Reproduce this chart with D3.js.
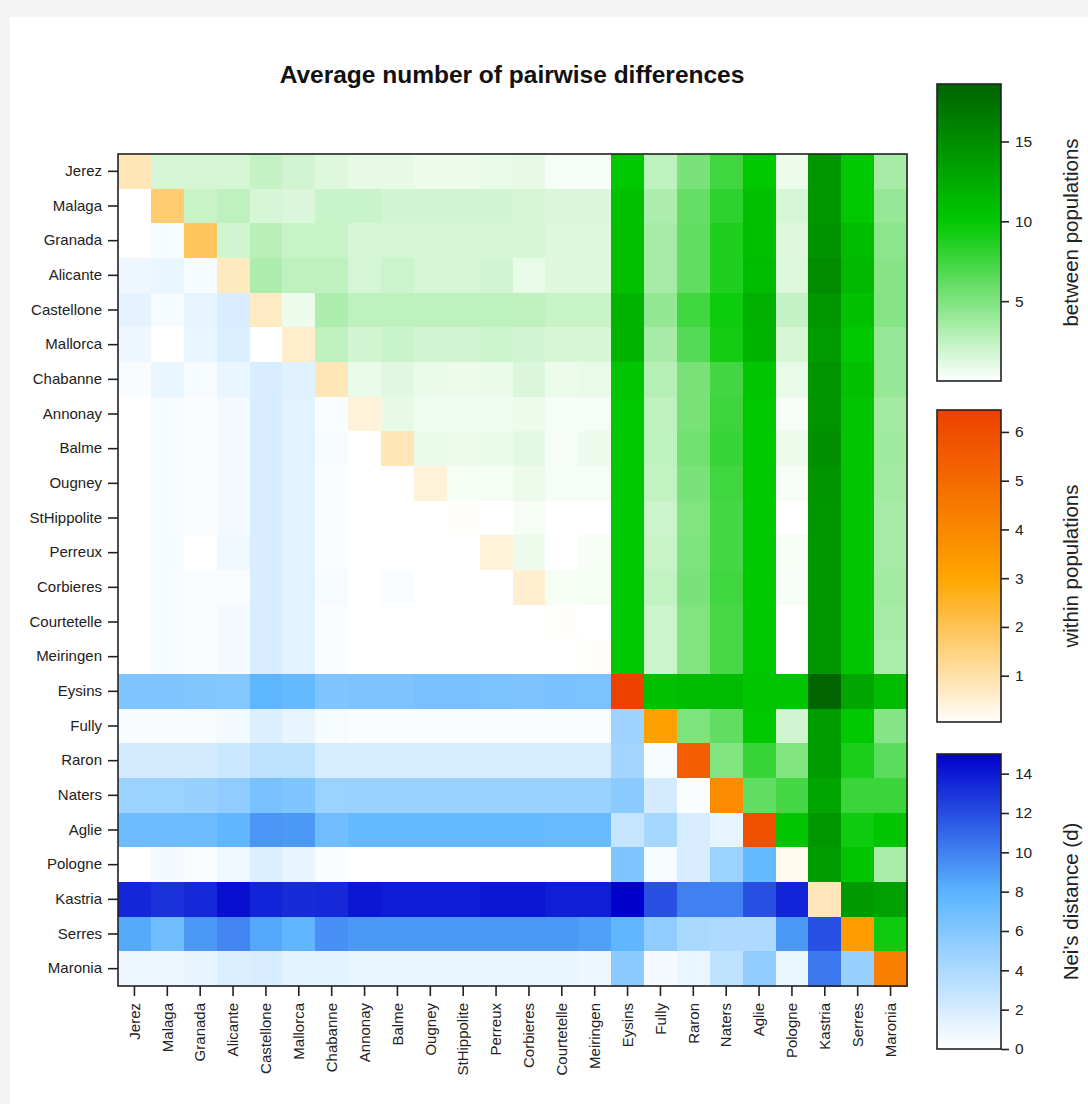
<!DOCTYPE html>
<html>
<head>
<meta charset="utf-8">
<script src="https://cdn.jsdelivr.net/npm/d3@7"></script>
<style>
  body { margin: 0; background: #f4f4f4; }
  svg { display: block; font-family: "Liberation Sans", Arial, sans-serif; }
</style>
</head>
<body>
<svg id="chart" width="1088" height="1104"></svg>
<script>
// ---------------- DATA ----------------
const populations = ["Jerez","Malaga","Granada","Alicante","Castellone","Mallorca","Chabanne","Annonay","Balme","Ougney","StHippolite","Perreux","Corbieres","Courtetelle","Meiringen","Eysins","Fully","Raron","Naters","Aglie","Pologne","Kastria","Serres","Maronia"];

// diagonal: average pairwise differences within populations
const withinPop = [0.85, 1.7, 1.9, 0.75, 0.7, 0.6, 0.85, 0.45, 0.85, 0.45, 0.05, 0.45, 0.55, 0.05, 0.05, 6.45, 3.15, 5.4, 3.9, 5.9, 0.2, 0.8, 3.3, 4.3];

// upper triangle: between populations, row i holds columns i+1 .. 23
const betweenPop = [
  [1.7, 1.7, 1.7, 2.3, 1.8, 1.3, 1.0, 1.0, 0.7, 0.7, 0.9, 1.0, 0.35, 0.35, 10.0, 2.6, 5.2, 7.5, 10.0, 0.7, 14.3, 10.0, 3.5],
  [2.2, 2.5, 1.6, 1.4, 2.1, 2.1, 1.8, 1.8, 1.8, 1.8, 1.6, 1.4, 1.4, 10.7, 3.2, 6.0, 8.2, 10.7, 1.6, 14.3, 10.0, 4.1],
  [1.8, 2.8, 2.2, 2.2, 1.7, 1.7, 1.7, 1.6, 1.6, 1.6, 1.3, 1.3, 10.7, 3.5, 6.2, 8.8, 10.7, 1.3, 14.6, 11.0, 4.5],
  [3.2, 2.5, 2.5, 1.7, 2.0, 1.7, 1.7, 1.8, 0.9, 1.3, 1.3, 10.7, 3.5, 6.2, 8.8, 11.0, 1.3, 15.2, 11.4, 4.7],
  [0.7, 3.2, 2.6, 2.6, 2.6, 2.6, 2.6, 2.5, 2.2, 2.2, 11.7, 4.2, 7.5, 9.5, 12.1, 2.3, 14.3, 10.7, 4.8],
  [2.5, 1.8, 2.1, 1.8, 1.8, 2.0, 1.8, 1.6, 1.6, 11.7, 3.5, 6.7, 9.2, 11.7, 1.6, 13.9, 10.0, 4.1],
  [0.9, 1.2, 0.8, 0.7, 0.8, 1.4, 0.7, 0.9, 10.3, 2.9, 5.3, 7.4, 10.3, 0.9, 14.5, 10.7, 4.1],
  [1.0, 0.6, 0.6, 0.6, 0.7, 0.35, 0.35, 10.0, 2.5, 5.3, 7.6, 10.0, 0.35, 14.5, 10.3, 3.6],
  [0.8, 0.7, 0.8, 1.1, 0.35, 0.7, 10.0, 2.6, 5.6, 7.8, 10.0, 0.7, 14.9, 10.3, 3.7],
  [0.4, 0.4, 0.7, 0.35, 0.35, 10.0, 2.4, 5.2, 7.5, 10.0, 0.35, 14.5, 10.3, 3.6],
  [0.0, 0.4, 0.0, 0.0, 10.0, 2.0, 5.0, 7.3, 10.0, 0.0, 14.3, 10.3, 3.5],
  [0.7, 0.0, 0.4, 10.0, 2.2, 5.1, 7.3, 10.0, 0.4, 14.3, 10.3, 3.5],
  [0.4, 0.4, 10.0, 2.4, 5.2, 7.5, 10.0, 0.35, 14.3, 10.3, 3.6],
  [0.0, 10.0, 2.0, 5.0, 7.2, 10.0, 0.0, 14.3, 10.3, 3.5],
  [10.0, 2.0, 5.0, 7.2, 10.0, 0.0, 14.3, 10.3, 3.3],
  [10.7, 11.0, 11.0, 10.3, 10.3, 18.6, 13.0, 11.0],
  [5.1, 6.2, 10.0, 1.8, 13.7, 10.0, 4.7],
  [5.0, 7.9, 5.0, 13.7, 9.0, 6.4],
  [6.2, 7.3, 13.0, 7.7, 7.7],
  [10.3, 14.3, 9.4, 10.3],
  [13.7, 10.3, 3.4],
  [14.0, 13.4],
  [9.4],
  []
];

// lower triangle: Nei's distance, row i holds columns 0 .. i-1
const neiDist = [
  [],
  [0.0],
  [0.0, 0.44],
  [0.82, 1.0, 0.44],
  [1.3, 0.44, 1.2, 1.9],
  [0.82, 0.0, 1.0, 1.7, 0.0],
  [0.34, 1.0, 0.44, 1.0, 1.9, 1.5],
  [0.0, 0.44, 0.24, 0.63, 1.9, 1.4, 0.24],
  [0.0, 0.44, 0.24, 0.63, 1.9, 1.4, 0.44, 0.0],
  [0.0, 0.44, 0.24, 0.63, 1.9, 1.4, 0.24, 0.0, 0.0],
  [0.0, 0.44, 0.24, 0.63, 1.9, 1.4, 0.24, 0.0, 0.0, 0.0],
  [0.0, 0.44, 0.0, 0.73, 1.9, 1.4, 0.24, 0.0, 0.0, 0.0, 0.0],
  [0.0, 0.44, 0.24, 0.24, 1.9, 1.4, 0.44, 0.0, 0.24, 0.0, 0.0, 0.0],
  [0.0, 0.44, 0.24, 0.63, 1.9, 1.4, 0.24, 0.0, 0.0, 0.0, 0.0, 0.0, 0.0],
  [0.0, 0.44, 0.24, 0.63, 1.9, 1.4, 0.24, 0.0, 0.0, 0.0, 0.0, 0.0, 0.0, 0.0],
  [6.2, 6.2, 6.1, 6.0, 7.8, 7.4, 6.2, 6.3, 6.3, 6.6, 6.6, 6.4, 6.3, 6.5, 6.4],
  [0.34, 0.34, 0.34, 0.63, 1.7, 1.1, 0.44, 0.24, 0.24, 0.24, 0.24, 0.24, 0.24, 0.24, 0.24, 4.7],
  [2.1, 2.1, 2.1, 2.5, 3.2, 3.2, 2.0, 2.0, 2.0, 2.0, 2.0, 2.0, 2.0, 2.0, 2.0, 4.5, 0.44],
  [4.8, 4.8, 5.0, 5.4, 6.6, 6.2, 4.8, 4.9, 4.9, 4.9, 4.9, 4.9, 4.9, 4.9, 4.9, 5.6, 2.1, 0.24],
  [7.1, 7.1, 7.1, 7.7, 9.2, 9.1, 6.9, 7.5, 7.5, 7.5, 7.5, 7.5, 7.5, 7.3, 7.3, 2.8, 4.3, 1.9, 1.2],
  [0.0, 0.53, 0.24, 0.73, 1.7, 1.1, 0.24, 0.0, 0.0, 0.0, 0.0, 0.0, 0.0, 0.0, 0.0, 6.2, 0.44, 1.9, 4.8, 7.4],
  [13.5, 13.1, 13.4, 14.4, 13.6, 13.3, 13.4, 14.1, 13.9, 13.9, 13.9, 14.1, 14.1, 13.8, 13.8, 15.0, 11.9, 10.0, 10.0, 11.9, 13.6],
  [8.4, 6.9, 9.1, 9.8, 8.5, 7.7, 9.4, 9.1, 9.1, 9.1, 9.1, 9.1, 9.1, 9.1, 8.8, 7.7, 5.4, 4.1, 3.9, 3.9, 9.1, 11.9],
  [0.82, 0.82, 1.1, 1.7, 1.9, 1.4, 1.4, 1.0, 1.0, 1.0, 1.0, 1.0, 1.0, 1.0, 0.82, 5.6, 0.53, 1.0, 3.2, 5.4, 1.0, 10.3, 5.0]
];

const betweenTicks = [5, 10, 15];
const withinTicks = [1, 2, 3, 4, 5, 6];
const neiTicks = [0, 2, 4, 6, 8, 10, 12, 14];

const chartTitle = "Average number of pairwise differences";
const legendTitles = ["between populations", "within populations", "Nei's distance (d)"];

// ---------------- DRAW ----------------
const svg = d3.select("#chart");

// window-like frame
svg.append("rect").attr("x", 0).attr("y", 0).attr("width", 1088).attr("height", 1104).attr("fill", "#f4f4f4");
svg.append("rect").attr("x", 10).attr("y", 17).attr("width", 1078).attr("height", 1087).attr("fill", "#ffffff");

const betweenMax = d3.max(betweenPop.flat());
const withinExt = d3.extent(withinPop);
const neiMax = d3.max(neiDist.flat());

const greenScale = d3.scaleLinear().domain([0, 10, betweenMax]).range(["#ffffff", "#00c800", "#006400"]).clamp(true);
const orangeScale = d3.scaleLinear().domain([0, 3, withinExt[1]]).range(["#ffffff", "#ffa500", "#ee4000"]).clamp(true);
const blueScale = d3.scaleLinear().domain([0, 8, neiMax]).range(["#ffffff", "#5ab4ff", "#0000cd"]).clamp(true);

const x = d3.scaleBand().domain(populations).range([118, 907]);
const y = d3.scaleBand().domain(populations).range([154, 986]);

// build cells
const cells = [];
populations.forEach((rowName, i) => {
  populations.forEach((colName, j) => {
    let v, color;
    if (i === j) { v = withinPop[i]; color = orangeScale(v); }
    else if (j > i) { v = betweenPop[i][j - i - 1]; color = greenScale(v); }
    else { v = neiDist[i][j]; color = blueScale(v); }
    cells.push({ row: rowName, col: colName, v, color });
  });
});

svg.append("g")
  .selectAll("rect")
  .data(cells)
  .join("rect")
  .attr("x", d => x(d.col))
  .attr("y", d => y(d.row))
  .attr("width", x.bandwidth() + 0.5)
  .attr("height", y.bandwidth() + 0.5)
  .attr("fill", d => d.color)
  .attr("shape-rendering", "crispEdges");

// frame
svg.append("rect")
  .attr("x", 118).attr("y", 154).attr("width", 789).attr("height", 832)
  .attr("fill", "none").attr("stroke", "#222").attr("stroke-width", 1.6);

// left axis
const yAxis = d3.axisLeft(y).tickSize(10).tickPadding(6);
const gy = svg.append("g").attr("transform", "translate(118,0)").call(yAxis);
gy.select(".domain").remove();
gy.selectAll(".tick line").attr("stroke", "#222").attr("stroke-width", 1.6);
gy.selectAll(".tick text").attr("font-size", 15).attr("fill", "#222").attr("font-family", "Liberation Sans, Arial, sans-serif");

// bottom axis
const xAxis = d3.axisBottom(x).tickSize(10).tickPadding(6);
const gx = svg.append("g").attr("transform", "translate(0,986)").call(xAxis);
gx.select(".domain").remove();
gx.selectAll(".tick line").attr("stroke", "#222").attr("stroke-width", 1.6);
gx.selectAll(".tick text")
  .attr("font-size", 15).attr("fill", "#222").attr("font-family", "Liberation Sans, Arial, sans-serif")
  .attr("transform", "rotate(-90)")
  .attr("text-anchor", "end")
  .attr("x", -17).attr("y", 0).attr("dy", "0.35em");

// title
svg.append("text")
  .attr("x", 512).attr("y", 83)
  .attr("text-anchor", "middle")
  .attr("font-size", 24.5).attr("font-weight", "bold").attr("fill", "#111")
  .text(chartTitle);

// legends
const defs = svg.append("defs");
function legend(id, scale, domain, y0, y1, ticks, title) {
  const lx = 937, lw = 64;
  const ly = d3.scaleLinear().domain(domain).range([y1, y0]);
  const grad = defs.append("linearGradient").attr("id", id)
    .attr("x1", 0).attr("y1", 1).attr("x2", 0).attr("y2", 0);
  d3.range(0, 1.0001, 0.05).forEach(t => {
    const v = domain[0] + t * (domain[1] - domain[0]);
    grad.append("stop").attr("offset", t).attr("stop-color", scale(v));
  });
  svg.append("rect").attr("x", lx).attr("y", y0).attr("width", lw).attr("height", y1 - y0)
    .attr("fill", `url(#${id})`).attr("stroke", "#222").attr("stroke-width", 1.6);
  const ax = d3.axisRight(ly).tickValues(ticks).tickSize(8).tickPadding(6).tickFormat(d3.format("d"));
  const g = svg.append("g").attr("transform", `translate(${lx + lw},0)`).call(ax);
  g.select(".domain").remove();
  g.selectAll(".tick line").attr("stroke", "#222").attr("stroke-width", 1.6);
  g.selectAll(".tick text").attr("font-size", 15.5).attr("fill", "#222").attr("font-family", "Liberation Sans, Arial, sans-serif");
  svg.append("text")
    .attr("transform", `translate(1078,${(y0 + y1) / 2}) rotate(-90)`)
    .attr("text-anchor", "middle")
    .attr("font-size", 20.5).attr("fill", "#222")
    .text(title);
}
legend("gGreen", greenScale, [0, betweenMax], 84, 381, betweenTicks, legendTitles[0]);
legend("gOrange", orangeScale, withinExt, 410, 722, withinTicks, legendTitles[1]);
legend("gBlue", blueScale, [0, neiMax], 754, 1049, neiTicks, legendTitles[2]);
</script>
</body>
</html>
